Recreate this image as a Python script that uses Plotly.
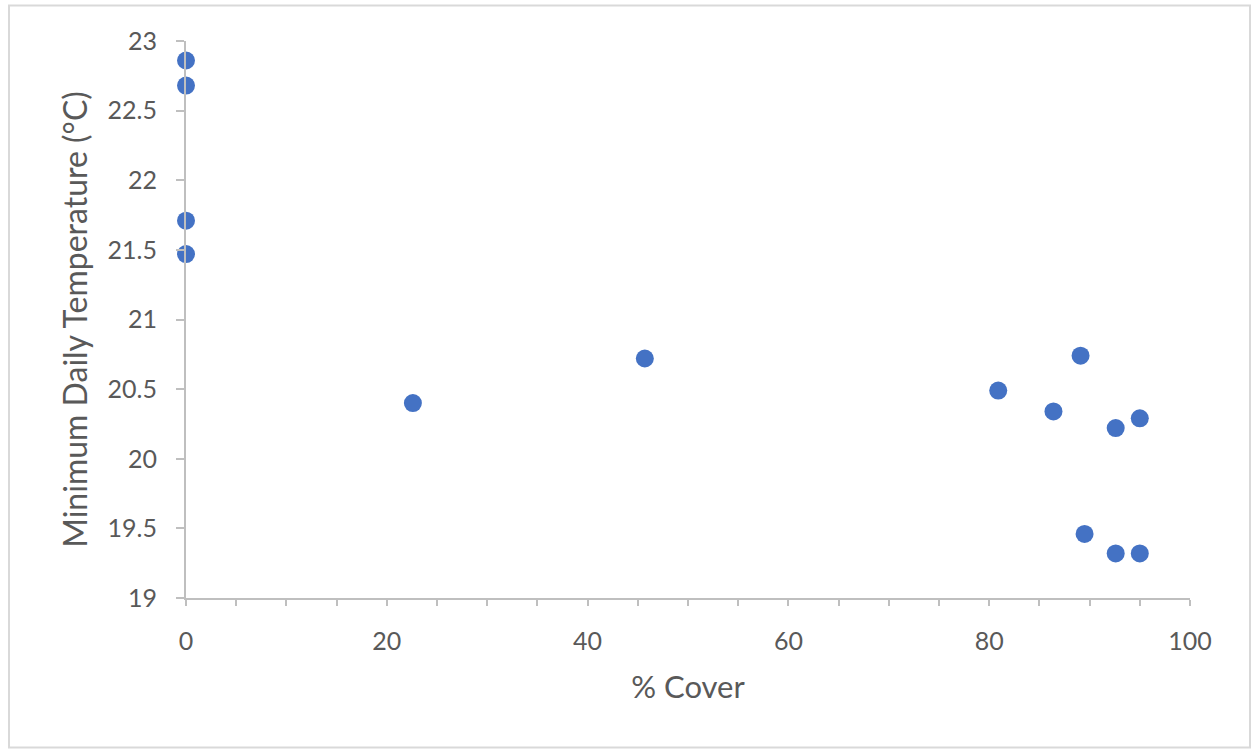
import plotly.graph_objects as go

# % cover vs minimum daily temperature
cover = [0, 0, 0, 0, 22.6, 45.7, 80.9, 86.4, 89.1, 89.5, 92.6, 95.0, 92.6, 95.0]
min_temp = [22.86, 22.68, 21.71, 21.47, 20.40, 20.72, 20.49, 20.34, 20.74, 19.46, 20.22, 20.29, 19.32, 19.32]

y_ticks = [19, 19.5, 20, 20.5, 21, 21.5, 22, 22.5, 23]
y_tick_text = ["19", "19.5", "20", "20.5", "21", "21.5", "22", "22.5", "23"]

W, H = 1251, 749
L, R, T, B = 186, 61, 41, 151
pw, ph = W - L - R, H - T - B

def px_x(p):
    return (p - L) / pw

def px_y(p):
    return (H - B - p) / ph

family = "Lato, 'Open Sans', sans-serif"
tick_font = dict(family=family, size=25, color="#595959")
axis_col = "#bfbfbf"

fig = go.Figure(
    go.Scatter(
        x=cover,
        y=min_temp,
        mode="markers",
        marker=dict(color="#4472C4", size=18, line=dict(width=0)),
        cliponaxis=False,
    )
)

fig.update_layout(
    width=W,
    height=H,
    margin=dict(l=L, r=R, t=T, b=B),
    paper_bgcolor="white",
    plot_bgcolor="white",
    showlegend=False,
    font=tick_font,
    shapes=[
        dict(
            type="rect", xref="paper", yref="paper",
            x0=px_x(9), x1=px_x(1250), y0=px_y(747.5), y1=px_y(5.5),
            line=dict(color="#d9d9d9", width=2), layer="below",
        )
    ],
)

fig.update_xaxes(
    range=[0, 100],
    tickvals=[0, 20, 40, 60, 80, 100],
    tickfont=tick_font,
    showgrid=False,
    zeroline=False,
    showline=True,
    linecolor=axis_col,
    linewidth=2,
    ticks="outside",
    ticklen=6,
    tickwidth=2,
    tickcolor=axis_col,
    minor=dict(dtick=5, ticks="outside", ticklen=6, tickwidth=2, tickcolor=axis_col, showgrid=False),
    ticklabelstandoff=14,
    title=dict(text="% Cover", standoff=22, font=dict(family=family, size=31, color="#595959")),
)

fig.update_yaxes(
    range=[19, 23],
    tickvals=y_ticks,
    ticktext=y_tick_text,
    tickfont=tick_font,
    showgrid=False,
    zeroline=False,
    showline=True,
    linecolor=axis_col,
    linewidth=2,
    ticks="outside",
    ticklen=8,
    tickwidth=2,
    tickcolor=axis_col,
    ticklabelstandoff=14,
    title=dict(text="Minimum Daily Temperature (°C)", standoff=10,
               font=dict(family=family, size=32, color="#595959")),
)

fig.write_html("out.html")
